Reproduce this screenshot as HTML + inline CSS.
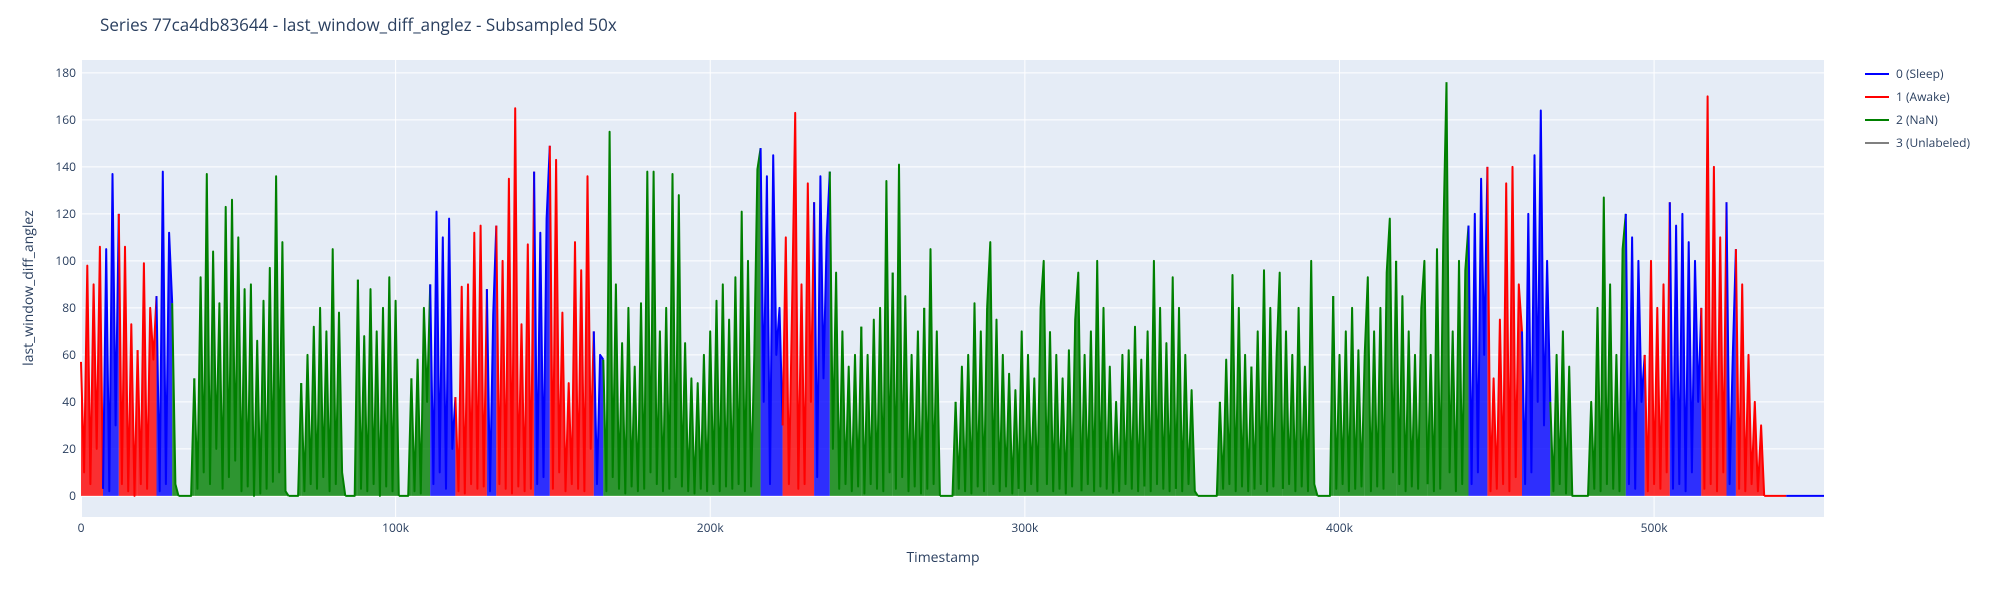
<!DOCTYPE html>
<html><head><meta charset="utf-8"><style>
html,body{margin:0;padding:0;background:#fff;}
svg{display:block;font-family:"Open Sans","Liberation Sans",sans-serif;}
</style></head><body>
<svg id="chart" width="2000" height="600" xmlns="http://www.w3.org/2000/svg">
<rect x="0" y="0" width="2000" height="600" fill="#fff"/>
<rect x="81" y="60" width="1743" height="457" fill="#e5ecf6"/>
<g id="grid"></g>
<g id="marks"></g>
<g id="ticks"></g>
<text x="100" y="31" font-size="17" fill="#2a3f5f">Series 77ca4db83644 - last_window_diff_anglez - Subsampled 50x</text>
<text x="943" y="562" font-size="14" fill="#2a3f5f" text-anchor="middle">Timestamp</text>
<text transform="translate(33,288) rotate(-90)" font-size="14" fill="#2a3f5f" text-anchor="middle">last_window_diff_anglez</text>
<g id="legend"></g>
</svg>
<script>
const xTicks=[0,100000,200000,300000,400000,500000];
const xTickLabels=["0","100k","200k","300k","400k","500k"];
const yTicks=[0,20,40,60,80,100,120,140,160,180];
const legendLabels=["0 (Sleep)","1 (Awake)","2 (NaN)","3 (Unlabeled)"];
const labelColors=["#0000ff","#ff0000","#008000","#808080"];
const stepSize=1000;
const segLabels=[1,0,1,1,0,
 2,2,2,2,2,2,2,2,2,
 0,1,0,1,0,1,0,
 2,
 0,1,0,
 2,2,2,2,2,2,2,2,2,2,2,2,2,2,2,2,2,2,2,2,2,2,2,
 0,1,0,2,0,1,0,1,0,1,1,0];
const segValues=[
[57,10,98,5,90,20,106],
[3,105,2,137,30],
[120,5,106,2,73,0],
[62,5,99,3,80,58],
[85,2,138,5,112],
[82,5],
[0,0,0,0,0],
[50,3,93,10,137,5,104,20,82,3,123,8,126,15,110,2,88,4,90,0,66,1,83,3,97,6,136,10,108,2],
[0,0,0,0],
[48,2,60,5,72,3,80,8,70,2,105,5,78,10],
[0,0,0,0],
[92,3,68,2,88,5,70,0,80,4,93,2,83],
[0,0,0,0],
[50,2,58,1,80,40],
[90,5,121,10,110,3,118,20],
[42,2,89,1,90,5,112,3,115,4],
[88,2,77],
[115,5,100,3,135,1,165,4,73,2,107,3],
[138,5,112,8,118],
[149,3,143,10,78,2,48,5,108,3,96,2,136,20],
[70,5,60],
[58,2,155,8,90,3,65,1,80,4,55,2,82,3,138,10,138,5,70,2,80,3,137,8,128,4,65,2,50,1,48,3,60,2,70,5,83,2,90,4,75,3,93,5,121,2,100,4,60,139],
[148,40,136,5,145,60,80],
[30,110,5,78,163,3,90,5,133,40],
[125,8,136,50,110],
[138,20,95,3,70,5,55,2,60,4],
[72,1,60,5,75,3,80,2,134,10],
[95,3,141,8,85,2,60,4,70,1],
[80,3,105,5,70],
[0,0,0,0,0],
[40,3,55,2,60,1,82,4,70,2],
[80,108,5,75,2,60,4,52,1,45],
[3,70,2,60,5,50,2,80,100,5],
[70,2,60,3,50,1,62,4,75,95],
[2,60,5,70,2,100,4,80,3,55],
[1,40,2,60,5,62,3,72,2,58],
[4,70,2,100,5,80,3,65,2,93],
[3,80,2,60,5,45,2],
[0,0,0,0,0,0,0],
[40,3,58,5,94,2,80,4,60,2],
[55,3,70,5,96,2,80,4,60,95],
[3,70,5,60,2,80,4,55,2,100,5],
[0,0,0,0,0],
[85,3,60,5,70,2,80,3,62,4],
[60,93,2,70,4,80,3,95,118,10],
[100,5,85,2,70,4,60,3,80,100],
[5,60,2,105,3,110],
[176,10,70,2,100,5,96],
[115,5,120,10,135,60],
[140,2,50,3,75,5,133,2,140,8,90],
[70,5,120,10,145,40,164,30,100],
[40,2,60,5,70,1,55,0,0,0,0,0,0,40,3,80,2,127,5,90,3,60,2,105],
[120,5,110,3,100,40],
[60,2,100,5,80,3,90,10],
[125,3,115,5,120,2,108,10,100,40],
[80,3,170,5,140,2,110,10],
[125,5,60],
[105,3,90,2,60,5,40,2,30],
[0,0,0,0,0,0,0],
[0,0,0,0,0,0,0,0,0,0,0,0,0]
];
const NS="http://www.w3.org/2000/svg";
const X0=81,X1=1824,Y0=60,Y1=517;
const xMin=0,xMax=554000,yMin=-9,yMax=185.5;
function sx(v){return X0+(v-xMin)/(xMax-xMin)*(X1-X0);}
function sy(v){return Y1-(v-yMin)/(yMax-yMin)*(Y1-Y0);}
function mk(tag,attrs,parent){const e=document.createElementNS(NS,tag);for(const k in attrs)e.setAttribute(k,attrs[k]);parent.appendChild(e);return e;}
const grid=document.getElementById('grid'),ticks=document.getElementById('ticks');
yTicks.forEach(t=>{
 const l=mk('line',{x1:X0,x2:X1,y1:sy(t),y2:sy(t),stroke:'#fff','stroke-width':t===0?2:1},grid);
 
 
 const tx=mk('text',{x:76,y:sy(t)+4,'font-size':12,fill:'#2a3f5f','text-anchor':'end'},ticks);
 tx.textContent=t;
 
 
});
xTicks.forEach((t,i)=>{
 const l=mk('line',{x1:sx(t),x2:sx(t),y1:Y0,y2:Y1,stroke:'#fff','stroke-width':t===0?2:1},grid);
 
 
 const tx=mk('text',{x:sx(t),y:532,'font-size':12,fill:'#2a3f5f','text-anchor':'middle'},ticks);
 tx.textContent=xTickLabels[i];
 
 
});
const marks=document.getElementById('marks');
let k=0;
segValues.forEach((seg,si)=>{
 const pts=[];
 seg.forEach((v,j)=>{pts.push(sx((k+j)*stepSize).toFixed(1)+','+sy(v).toFixed(1));});
 const next=segValues[si+1];
 let xEnd=sx((k+seg.length-1)*stepSize);
 if(next){pts.push(sx((k+seg.length)*stepSize).toFixed(1)+','+sy(next[0]).toFixed(1));xEnd=sx((k+seg.length)*stepSize);}
 const col=labelColors[segLabels[si]];
 const area=mk('polygon',{points:sx(k*stepSize).toFixed(1)+','+sy(0).toFixed(1)+' '+pts.join(' ')+' '+xEnd.toFixed(1)+','+sy(0).toFixed(1),fill:col,'fill-opacity':0.8,stroke:'none'},marks);
 
 
 const p=mk('polyline',{points:pts.join(' '),fill:'none',stroke:col,'stroke-width':2,'stroke-linejoin':'round'},marks);
 
 
 k+=seg.length;
});
const legend=document.getElementById('legend');
legendLabels.forEach((lab,i)=>{
 const y=74+i*23;
 const g=mk('g',{},legend);
 
 
 mk('line',{x1:1865,x2:1889,y1:y,y2:y,stroke:labelColors[i],'stroke-width':2},g);
 const t=mk('text',{x:1896,y:y+4,'font-size':12,fill:'#2a3f5f'},g);
 t.textContent=lab;
});
</script>
</body></html>
